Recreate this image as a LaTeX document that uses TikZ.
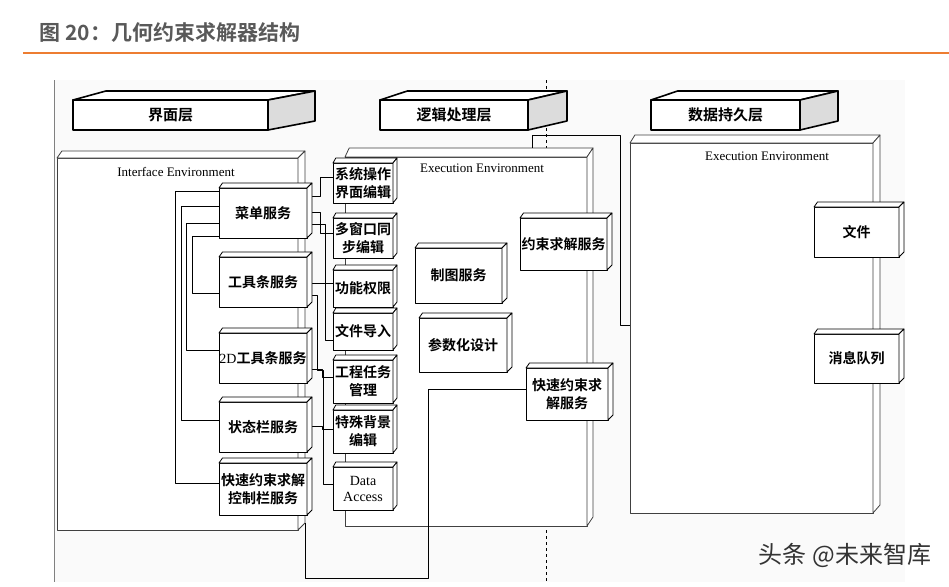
\documentclass[tikz,border=0pt]{standalone}
\usepackage{fontspec}
\setmainfont{Liberation Serif}
\newfontfamily\cjkfont{Noto Sans CJK SC}[BoldFont={Noto Sans CJK SC Bold}]
\usepackage{xcolor}
\usepackage{tikz}
\usetikzlibrary{calc}
\definecolor{titlegray}{HTML}{595959}
\definecolor{barorange}{HTML}{ED7D31}
\definecolor{sidegray}{HTML}{DCDCDC}

% top and right faces of a box node
\newcommand{\boxdepth}[5][]{%
  \filldraw[#1, fill=white] (#2.north west) -- ++({0.7*#3},#4) -- ($(#2.north east)+(#3,#4)$) -- (#2.north east) -- cycle;
  \filldraw[#1, fill=#5] (#2.north east) -- ++(#3,#4) -- ($(#2.south east)+(#3,#4)$) -- (#2.south east) -- cycle;}

\begin{document}
\begin{tikzpicture}[x=1pt, y=-1pt, line width=0.8pt, line join=round,
    layer/.style={draw, fill=white, line width=1.6pt, outer sep=0pt, inner sep=0pt,
      font=\cjkfont\bfseries\fontsize{15}{18}\selectfont},
    envbox/.style={draw=black!75, fill=white, outer sep=0pt, inner sep=0pt},
    envlabel/.style={font=\fontsize{13}{15}\selectfont},
    svc/.style={draw, fill=white, outer sep=0pt, inner sep=0pt, align=center,
      font=\cjkfont\bfseries\fontsize{14}{18}\selectfont}]
            \useasboundingbox (0,0) rectangle (949,586);
            % Title
            \node[anchor=west, text=titlegray, font=\cjkfont\bfseries\fontsize{21}{25}\selectfont] (title) at (36,33) {图 20：几何约束求解器结构};
            \draw[barorange, line width=2pt] (23,53) -- (949,53);
            % Panel
            \fill[black!2] (54,80) rectangle (905,582);
            \draw[gray, line width=0.6pt] (54,80) -- (54,582);
            \draw[dashed, line width=0.6pt] (546,80) -- (546,582);
            % Layers
            \node[layer, minimum width=195pt, minimum height=30pt] (hdrui) at (170.5,115) {界面层};
            \boxdepth[line width=1.6pt]{hdrui}{47}{-9}{sidegray}
            \node[layer, minimum width=148pt, minimum height=30pt] (hdrlg) at (454,115) {逻辑处理层};
            \boxdepth[line width=1.6pt]{hdrlg}{39}{-9}{sidegray}
            \node[layer, minimum width=149pt, minimum height=30pt] (hdrdt) at (725.5,115) {数据持久层};
            \boxdepth[line width=1.6pt]{hdrdt}{38}{-9}{sidegray}
            % Environments
            \node[envbox, minimum width=241pt, minimum height=372pt] (ifenv) at (177.5,344) {};
            \boxdepth[draw=black!75]{ifenv}{7}{-7}{white}
            \node[envlabel] (iflabel) at (176,172) {Interface Environment};
            \node[envbox, minimum width=242pt, minimum height=369pt] (lgenv) at (466,341.5) {};
            \boxdepth[draw=black!75]{lgenv}{6}{-9}{white}
            \node[envlabel] (lglabel) at (482,168) {Execution Environment};
            \node[envbox, minimum width=243pt, minimum height=370pt] (dtenv) at (751.5,328) {};
            \boxdepth[draw=black!75]{dtenv}{7}{-8}{white}
            \node[envlabel] (dtlabel) at (767,156) {Execution Environment};
            \coordinate (ifcorner) at ($(ifenv.south east)+(7,-7)$);
            \coordinate (lgtop) at ($(lgenv.north west)+(187,-9)$);
            % Interface services
            \node[svc, minimum width=88pt, minimum height=50pt] (menu) at (263,213) {菜单服务};
            \node[svc, minimum width=88pt, minimum height=50pt] (toolbar) at (263,282) {工具条服务};
            \node[svc, minimum width=88pt, minimum height=50pt] (tool2d) at (263,358) {{\rmfamily\mdseries 2D}工具条服务};
            \node[svc, minimum width=88pt, minimum height=50pt] (status) at (263,427) {状态栏服务};
            \node[svc, minimum width=88pt, minimum height=52pt] (quickbar) at (263,489) {快速约束求解\\控制栏服务};
            % Middle column
            \node[svc, minimum width=60pt, minimum height=40pt] (sysedit) at (363,183) {系统操作\\界面编辑};
            \node[svc, minimum width=60pt, minimum height=40pt] (multiwin) at (363,238) {多窗口同\\步编辑};
            \node[svc, minimum width=60pt, minimum height=37pt] (perm) at (363,288.5) {功能权限};
            \node[svc, minimum width=60pt, minimum height=37pt] (fileimp) at (363,331.5) {文件导入};
            \node[svc, minimum width=60pt, minimum height=43pt] (taskmgr) at (363,381.5) {工程任务\\管理};
            \node[svc, minimum width=60pt, minimum height=43pt] (bgedit) at (363,431.5) {特殊背景\\编辑};
            \node[svc, minimum width=60pt, minimum height=43pt, font=\fontsize{14}{16}\selectfont] (dataacc) at (363,488.5) {Data\\Access};
            % Logic services
            \node[svc, minimum width=87pt, minimum height=55pt] (drawsvc) at (458.5,275.5) {制图服务};
            \node[svc, minimum width=88pt, minimum height=54pt] (paramdes) at (463,345) {参数化设计};
            \node[svc, minimum width=87pt, minimum height=52pt] (solver) at (563.5,244) {约束求解服务};
            \node[svc, minimum width=82pt, minimum height=52pt] (quicksolver) at (567,394) {快速约束求\\解服务};
            % Data services
            \node[svc, minimum width=85pt, minimum height=50pt] (filestore) at (856.5,232) {文件};
            \node[svc, minimum width=85pt, minimum height=49pt] (msgqueue) at (856.5,358.5) {消息队列};
            % Links
            \draw (menu.west |- 0,191) -| (175,483) -- (quickbar.west |- 0,483);
            \draw (menu.west |- 0,206) -| (181,420) -- (status.west |- 0,420);
            \draw (menu.west |- 0,223) -| (186,350) -- (tool2d.west |- 0,350);
            \draw (menu.west |- 0,236) -| (192,293) -- (toolbar.west |- 0,293);
            \draw (menu.east |- 0,196) -| (320,177) -- (sysedit.west |- 0,177);
            \draw (menu.east |- 0,212) -| (320,233) -- (multiwin.west |- 0,233);
            \draw (menu.east |- 0,224) -| (325,340) -- (fileimp.west |- 0,340);
            \draw (toolbar.east |- 0,283) -- (perm.west |- 0,283);
            \draw (toolbar.east |- 0,295) -| (317,370) -| (323,484) -- (dataacc.west |- 0,484);
            \draw (tool2d.east |- 0,369) -| (322,377) -- (taskmgr.west |- 0,377);
            \draw (status.east |- 0,426) -| (322,429) -- (bgedit.west |- 0,429);
            \draw (quicksolver.west |- 0,389) -| (428,578) -| (ifcorner);
            \draw (lgtop) |- (620,135) |- (dtenv.west |- 0,325);
            % Box faces
            \foreach \n in {menu,toolbar,tool2d,status,quickbar,drawsvc,paramdes,solver,quicksolver,filestore,msgqueue}
              \boxdepth{\n}{5}{-5}{white};
            \foreach \n in {sysedit,multiwin,perm,fileimp,taskmgr,bgedit,dataacc}
              \boxdepth{\n}{4}{-5}{white};
            % Watermark
            \node[text=black!80, font=\cjkfont\fontsize{24}{26}\selectfont] (mark) at (845,555) {头条 @未来智库};
        \end{tikzpicture}
\end{document}
